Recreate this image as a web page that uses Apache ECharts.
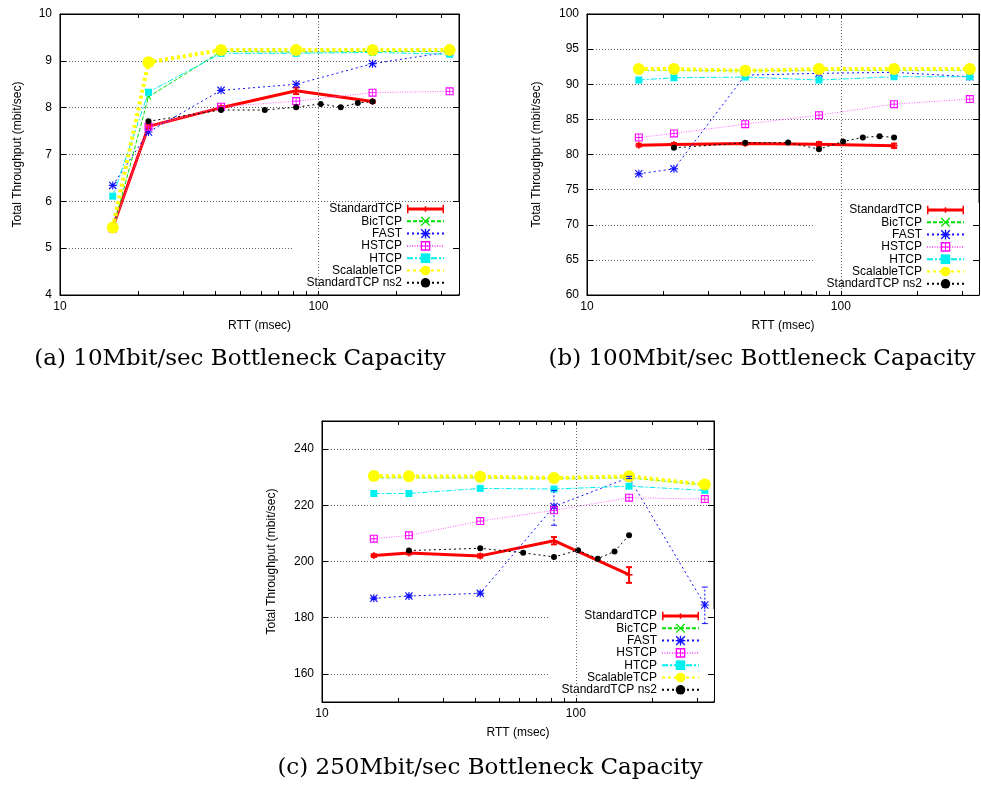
<!DOCTYPE html>
<html>
<head>
<meta charset="utf-8">
<script src="https://cdn.jsdelivr.net/npm/echarts@6/dist/echarts.min.js"></script>
<style>
html,body{margin:0;padding:0;background:#fff;}
#main{width:981px;height:786px;}
</style>
</head>
<body>
<div id="main"></div>
<script>
// ---------------- data ----------------
const rtt = [16, 22, 42, 82, 162, 322];
const rttStd = [16, 22, 42, 82, 162];
const rttNs2 = [22, 42, 62, 82, 102, 122, 142, 162];

const xLabelValues = [10, 100];
const xTickValues = [10, 20, 30, 40, 50, 60, 70, 80, 90, 100, 200, 300];
const xGridValue = 100;

const seriesNames = ['StandardTCP', 'BicTCP', 'FAST', 'HSTCP', 'HTCP', 'ScalableTCP', 'StandardTCP ns2'];

// (a) 10 Mbit/sec
const aStd = [5.44, 7.60, 8.00, 8.36, 8.13];
const aStdLo = [5.40, 7.56, 7.97, 8.29, 8.10];
const aStdHi = [5.48, 7.64, 8.03, 8.43, 8.16];
const aBic = [5.38, 8.23, 9.20, 9.19, 9.20, 9.20];
const aFast = [6.34, 7.48, 8.37, 8.50, 8.94, 9.19];
const aHs = [5.42, 7.59, 8.02, 8.14, 8.32, 8.35];
const aHtcp = [6.11, 8.33, 9.16, 9.16, 9.18, 9.14];
const aScal = [5.44, 8.97, 9.23, 9.23, 9.23, 9.23];
const aNs2 = [7.71, 7.95, 7.95, 8.01, 8.08, 8.01, 8.10, 8.13];
const aYTicks = [4, 5, 6, 7, 8, 9, 10];

// (b) 100 Mbit/sec
const bStd = [81.33, 81.43, 81.57, 81.47, 81.24];
const bStdLo = [81.13, 81.23, 81.37, 81.17, 80.94];
const bStdHi = [81.53, 81.63, 81.77, 81.77, 81.54];
const bBic = [91.97, 91.97, 91.95, 91.97, 91.97, 91.97];
const bFast = [77.25, 77.96, 91.30, 91.55, 91.70, 91.07];
const bHs = [82.42, 83.00, 84.32, 85.60, 87.17, 87.89];
const bHtcp = [90.60, 90.93, 91.02, 90.60, 91.07, 91.07];
const bScal = [92.16, 92.16, 91.92, 92.16, 92.16, 92.16];
const bNs2 = [80.95, 81.66, 81.70, 80.76, 81.85, 82.42, 82.61, 82.42];
const bYTicks = [60, 65, 70, 75, 80, 85, 90, 95, 100];

// (c) 250 Mbit/sec
const cStd = [202.1, 203.0, 202.0, 207.4, 195.3];
const cStdLo = [201.6, 202.5, 201.4, 206.1, 192.4];
const cStdHi = [202.6, 203.5, 202.6, 208.7, 198.0];
const cBic = [229.8, 229.8, 229.8, 229.6, 229.8, 227.3];
const cFast = [186.9, 187.7, 188.7, 219.6, 229.9, 184.5];
const cFastLo = [186.5, 187.3, 188.2, 212.9, 229.5, 177.9];
const cFastHi = [187.3, 188.1, 189.2, 225.3, 230.3, 190.9];
const cHs = [208.1, 209.3, 214.4, 218.2, 222.7, 222.2];
const cHtcp = [224.2, 224.2, 226.0, 225.8, 226.8, 225.3];
const cScal = [230.4, 230.3, 230.2, 229.7, 230.3, 227.4];
const cNs2 = [203.9, 204.7, 203.1, 201.6, 204.0, 201.0, 203.6, 209.3];
const cYTicks = [160, 180, 200, 220, 240];

const captions = [
  '(a) 10Mbit/sec Bottleneck Capacity',
  '(b) 100Mbit/sec Bottleneck Capacity',
  '(c) 250Mbit/sec Bottleneck Capacity'
];
const xName = 'RTT (msec)';
const yName = 'Total Throughput (mbit/sec)';

// ---------------- layout / style ----------------
const FONT = 'Liberation Sans';
const W = 981;
const panels = [
  {grid: {left: 60, top: 14, width: 399, height: 281}, yMin: 4, yMax: 10, yTicks: aYTicks, yNameGap: 36,
   legend: {right: W - 459, top: 202}, caption: {x: 240, y: 359},
   d: {std: aStd, stdLo: aStdLo, stdHi: aStdHi, bic: aBic, fast: aFast, hs: aHs, htcp: aHtcp, scal: aScal, ns2: aNs2}},
  {grid: {left: 587, top: 14, width: 392, height: 281}, yMin: 60, yMax: 100, yTicks: bYTicks, yNameGap: 44,
   legend: {right: W - 979, top: 203}, caption: {x: 762, y: 359},
   d: {std: bStd, stdLo: bStdLo, stdHi: bStdHi, bic: bBic, fast: bFast, hs: bHs, htcp: bHtcp, scal: bScal, ns2: bNs2}},
  {grid: {left: 322, top: 421, width: 392, height: 281}, yMin: 150, yMax: 250, yTicks: cYTicks, yNameGap: 44,
   legend: {right: W - 714, top: 609}, caption: {x: 490, y: 768},
   d: {std: cStd, stdLo: cStdLo, stdHi: cStdHi, bic: cBic, fast: cFast, fastLo: cFastLo, fastHi: cFastHi, hs: cHs, htcp: cHtcp, scal: cScal, ns2: cNs2}}
];

const SYM_PLUS = 'path://M4,0H6V10H4Z M0,4H10V6H0Z';
const SYM_X = 'path://M1,0 L10,9 L9,10 L0,1Z M9,0 L10,1 L1,10 L0,9Z';
const SYM_STAR = 'path://M4.3,0H5.7V10H4.3Z M0,4.3H10V5.7H0Z M1,0 L10,9 L9,10 L0,1Z M9,0 L10,1 L1,10 L0,9Z';
const SYM_BOXPLUS = 'path://M0,0H10V10H0Z M1.4,1.4V8.6H8.6V1.4Z M4.5,1.4H5.5V8.6H4.5Z M1.4,4.5H8.6V5.5H1.4Z';
const LEG_STD = 'path://M0,4H40V7H0Z M0,1H1.6V10H0Z M38.4,1H40V10H38.4Z M19.2,2.5H20.8V8.5H19.2Z';

const styles = {
  std:  {color: '#ff0000', lineStyle: {width: 3, type: 'solid'}, symbol: SYM_PLUS, symbolSize: 7},
  bic:  {color: '#00e000', lineStyle: {width: 1, type: [4, 2]}, symbol: SYM_X, symbolSize: 6},
  fast: {color: '#1010ff', lineStyle: {width: 1, type: [2, 3]}, symbol: SYM_STAR, symbolSize: 8},
  hs:   {color: '#ff00ff', lineStyle: {width: 1, type: [1, 1.5], color: '#ff66ff'}, symbol: SYM_BOXPLUS, symbolSize: 8},
  htcp: {color: '#00f0f0', lineStyle: {width: 1, type: [6, 2, 2, 2]}, symbol: 'rect', symbolSize: 7},
  scal: {color: '#ffff00', lineStyle: {width: 4, type: [3, 3]}, symbol: 'circle', symbolSize: 12},
  ns2:  {color: '#000000', lineStyle: {width: 1, type: [2, 3]}, symbol: 'circle', symbolSize: 6}
};

const gridLine = {show: true, lineStyle: {color: '#666', type: [1, 2], width: 1}};
const labelStyle = {fontFamily: FONT, fontSize: 12, color: '#000'};
const borderLine = {show: true, lineStyle: {color: '#000', width: 1}};

const option = {
  animation: false,
  backgroundColor: '#fff',
  grid: [], xAxis: [], yAxis: [], series: [], legend: [], graphic: []
};

function lineSeries(name, key, xs, ys, gi, extra) {
  const s = styles[key];
  return Object.assign({
    type: 'line', name: name, xAxisIndex: gi * 2, yAxisIndex: gi * 2,
    data: xs.map((x, i) => [x, ys[i]]),
    color: s.color,
    itemStyle: {color: s.color},
    lineStyle: Object.assign({color: s.color}, s.lineStyle),
    symbol: s.symbol, symbolSize: s.symbolSize, showSymbol: true,
    emphasis: {disabled: true}, silent: true
  }, extra || {});
}

function errSeries(id, xs, lo, hi, color, width, dash, gi, z) {
  return {
    type: 'custom', name: id, xAxisIndex: gi * 2, yAxisIndex: gi * 2, silent: true, z: z || 2,
    data: xs.map((x, i) => [x, lo[i], hi[i]]),
    encode: {x: 0, y: [1, 2]},
    renderItem: function (params, api) {
      const x = api.value(0);
      const p1 = api.coord([x, api.value(1)]);
      const p2 = api.coord([x, api.value(2)]);
      const cap = 3;
      return {type: 'group', children: [
        {type: 'line', shape: {x1: p1[0], y1: p1[1], x2: p2[0], y2: p2[1]}, style: {stroke: color, lineWidth: width, lineDash: dash}},
        {type: 'line', shape: {x1: p1[0] - cap, y1: p1[1], x2: p1[0] + cap, y2: p1[1]}, style: {stroke: color, lineWidth: width}},
        {type: 'line', shape: {x1: p2[0] - cap, y1: p2[1], x2: p2[0] + cap, y2: p2[1]}, style: {stroke: color, lineWidth: width}}
      ]};
    }
  };
}

panels.forEach((p, gi) => {
  option.grid.push(Object.assign({show: true, borderColor: '#000', borderWidth: 1, backgroundColor: 'transparent'}, p.grid));
  // bottom x axis
  option.xAxis.push({
    type: 'log', logBase: 10, gridIndex: gi, position: 'bottom', min: 10, max: 350, z: 6,
    name: xName, nameLocation: 'middle', nameGap: 25, nameTextStyle: labelStyle,
    axisLine: borderLine,
    axisTick: {show: true, inside: true, length: 4, customValues: xTickValues, lineStyle: {color: '#000'}},
    axisLabel: Object.assign({show: true, margin: 6, customValues: xLabelValues}, labelStyle),
    splitLine: {show: false}, minorTick: {show: false}
  });
  // top x axis (mirror ticks)
  option.xAxis.push({
    type: 'log', logBase: 10, gridIndex: gi, position: 'top', min: 10, max: 350, z: 6,
    axisLine: borderLine,
    axisTick: {show: true, inside: true, length: 4, customValues: xTickValues, lineStyle: {color: '#000'}},
    axisLabel: {show: false}, splitLine: {show: false}
  });
  // left y axis
  option.yAxis.push({
    type: 'value', gridIndex: gi, position: 'left', min: p.yMin, max: p.yMax,
    name: yName, nameLocation: 'middle', nameGap: p.yNameGap, nameTextStyle: labelStyle,
    axisLine: borderLine,
    axisTick: {show: true, inside: true, length: 6, customValues: p.yTicks, lineStyle: {color: '#000'}},
    axisLabel: Object.assign({show: true, margin: 8, customValues: p.yTicks}, labelStyle),
    splitLine: gridLine
  });
  // right y axis (mirror ticks)
  option.yAxis.push({
    type: 'value', gridIndex: gi, position: 'right', min: p.yMin, max: p.yMax, z: 6,
    axisLine: borderLine,
    axisTick: {show: true, inside: true, length: 6, customValues: p.yTicks, lineStyle: {color: '#000'}},
    axisLabel: {show: false}, splitLine: {show: false}
  });

  const d = p.d;
  option.series.push(lineSeries('StandardTCP', 'std', rttStd, d.std, gi, {
    markLine: {silent: true, symbol: ['none', 'none'], label: {show: false},
      lineStyle: {color: '#666', type: [1, 2], width: 1}, emphasis: {disabled: true},
      data: [{xAxis: xGridValue}]}
  }));
  option.series.push(errSeries('errStd' + gi, rttStd, d.stdLo, d.stdHi, '#ff0000', 2, null, gi));
  option.series.push(lineSeries('BicTCP', 'bic', rtt, d.bic, gi));
  option.series.push(lineSeries('FAST', 'fast', rtt, d.fast, gi));
  if (d.fastLo) option.series.push(errSeries('errFast' + gi, rtt, d.fastLo, d.fastHi, '#1010ff', 1, [2, 2], gi, 6));
  option.series.push(lineSeries('HSTCP', 'hs', rtt, d.hs, gi));
  option.series.push(lineSeries('HTCP', 'htcp', rtt, d.htcp, gi));
  option.series.push(lineSeries('ScalableTCP', 'scal', rtt, d.scal, gi));
  option.series.push(lineSeries('StandardTCP ns2', 'ns2', rttNs2, d.ns2, gi));

  option.legend.push({
    orient: 'vertical', align: 'right', right: p.legend.right, top: p.legend.top,
    padding: [1, 14, 5, 13], backgroundColor: '#fff', selectedMode: false,
    itemWidth: 37, itemHeight: 12, itemGap: 0.3,
    textStyle: {fontFamily: FONT, fontSize: 12, color: '#000', lineHeight: 12},
    data: seriesNames.map((n, i) => i === 0 ? {name: n, icon: LEG_STD} : {name: n})
  });

  option.graphic.push({
    type: 'text', x: p.caption.x, y: p.caption.y, silent: true,
    style: {text: captions[gi], fontFamily: 'DejaVu Serif', fontSize: 23, fill: '#000', textAlign: 'center', textVerticalAlign: 'middle'}
  });
});

const chart = echarts.init(document.getElementById('main'), null, {renderer: 'canvas'});
chart.setOption(option);
</script>
</body>
</html>
